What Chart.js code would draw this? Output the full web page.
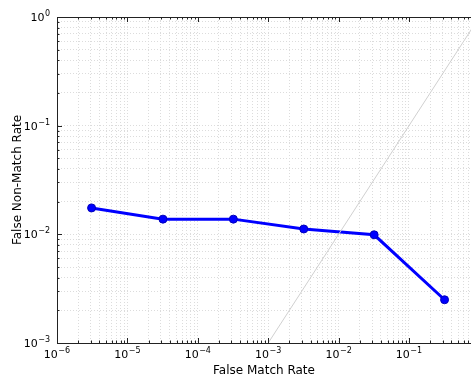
<!DOCTYPE html>
<html lang="en">
<head>
  <meta charset="UTF-8">
  <title>FMR vs FNMR</title>
  <script src="https://cdn.jsdelivr.net/npm/chart.js"></script>
  <style>
    html, body { margin: 0; padding: 0; background: #fff; }
    #wrap { width: 471px; height: 379px; }
  </style>
</head>
<body>
  <div id="wrap"><canvas id="detChart"></canvas></div>
  <script>
    // values
    const fmr = [3.1e-6, 3.2e-5, 3.2e-4, 3.2e-3, 3.2e-2, 3.2e-1];
    const fnmr = [0.0175, 0.0138, 0.0138, 0.0112, 0.0099, 0.0025];
    const diagX = [1e-3, 1];
    const diagY = [1e-3, 1];
    const xDecades = [-6, -5, -4, -3, -2, -1];
    const yDecades = [-3, -2, -1, 0];

    // 1..9 x 10^k tick positions for the log axes
    function logTicks(decades, max) {
      const out = [];
      decades.forEach(k => {
        for (let m = 1; m <= 9; m++) {
          const v = m * Math.pow(10, k);
          if (v <= max * 1.0001) out.push({ value: v });
        }
      });
      return out;
    }

    function isDecade(v) {
      const e = Math.log10(v);
      return Math.abs(e - Math.round(e)) < 1e-6;
    }

    const FONT = 'DejaVu Sans';
    const gridCol = '#dcdcdc';

    // "10" with a raised exponent, like matplotlib mathtext
    function powLabel(ctx, exp, x, y, align) {
      const e = String(exp).replace('-', '\u2212');
      ctx.font = '11px "' + FONT + '"';
      const w1 = ctx.measureText('10').width;
      ctx.font = '8px "' + FONT + '"';
      const w2 = ctx.measureText(e).width;
      const w = w1 + w2 + 0.5;
      const x0 = align === 'center' ? x - w / 2 : x - w;
      ctx.textAlign = 'left';
      ctx.textBaseline = 'alphabetic';
      ctx.font = '11px "' + FONT + '"';
      ctx.fillText('10', x0, y);
      ctx.font = '8px "' + FONT + '"';
      ctx.fillText(e, x0 + w1 + 0.5, y - 5);
    }

    // inward ticks, top spine and the power-of-ten labels
    const axesDeco = {
      id: 'axesDeco',
      afterDraw(chart) {
        const { ctx, chartArea: a, scales } = chart;
        ctx.save();
        ctx.strokeStyle = '#222';
        ctx.lineWidth = 1;
        ctx.beginPath();
        ctx.moveTo(a.left, a.top + 0.5);
        ctx.lineTo(a.right, a.top + 0.5);
        scales.x.ticks.forEach(t => {
          const px = Math.round(scales.x.getPixelForValue(t.value)) + 0.5;
          const len = isDecade(t.value) ? 5 : 2.5;
          ctx.moveTo(px, a.bottom); ctx.lineTo(px, a.bottom - len);
          ctx.moveTo(px, a.top); ctx.lineTo(px, a.top + len);
        });
        scales.y.ticks.forEach(t => {
          const py = Math.round(scales.y.getPixelForValue(t.value)) + 0.5;
          const len = isDecade(t.value) ? 5 : 2.5;
          ctx.moveTo(a.left, py); ctx.lineTo(a.left + len, py);
        });
        ctx.stroke();

        ctx.fillStyle = '#000';
        xDecades.forEach(k => {
          powLabel(ctx, k, scales.x.getPixelForValue(Math.pow(10, k)), a.bottom + 15, 'center');
        });
        yDecades.forEach(k => {
          powLabel(ctx, k, a.left - 7, scales.y.getPixelForValue(Math.pow(10, k)) + 4, 'right');
        });
        ctx.restore();
      }
    };

    const titleFont = { family: FONT, size: 12 };

    new Chart(document.getElementById('detChart'), {
      type: 'line',
      data: {
        datasets: [{
          data: diagX.map((x, i) => ({ x, y: diagY[i] })),
          borderColor: '#d0d0d0',
          borderWidth: 1,
          pointRadius: 0,
          fill: false
        }, {
          data: fmr.map((x, i) => ({ x, y: fnmr[i] })),
          borderColor: '#0000ff',
          backgroundColor: '#0000ff',
          borderWidth: 3,
          pointRadius: 4,
          pointBorderWidth: 1,
          pointBorderColor: '#0000bb',
          pointBackgroundColor: '#0000ff',
          fill: false
        }]
      },
      options: {
        responsive: true,
        maintainAspectRatio: false,
        animation: false,
        layout: { autoPadding: false, padding: { top: 17, right: 0, left: 0, bottom: 0 } },
        plugins: { legend: { display: false }, tooltip: { enabled: false } },
        scales: {
          x: {
            type: 'logarithmic',
            min: 1e-6,
            max: 0.76,
            afterBuildTicks: s => { s.ticks = logTicks(xDecades, 0.76); },
            afterFit: s => { s.height = 36; s.paddingLeft = 0; s.paddingRight = 0; },
            ticks: { display: false, autoSkip: false },
            grid: { color: gridCol, drawTicks: false },
            border: { display: true, color: '#222', dash: [1, 2] },
            title: { display: true, text: 'False Match Rate', color: '#000', font: titleFont, padding: { top: 0, bottom: 1 } }
          },
          y: {
            type: 'logarithmic',
            min: 1e-3,
            max: 1,
            afterBuildTicks: s => { s.ticks = logTicks(yDecades, 1); },
            afterFit: s => { s.width = 57; s.paddingTop = 0; s.paddingBottom = 0; },
            ticks: { display: false, autoSkip: false },
            grid: { color: gridCol, drawTicks: false },
            border: { display: true, color: '#222', dash: [1, 2] },
            title: { display: true, text: 'False Non-Match Rate', color: '#000', font: titleFont, padding: { top: 11, bottom: 0 } }
          }
        }
      },
      plugins: [axesDeco]
    });
  </script>
</body>
</html>
